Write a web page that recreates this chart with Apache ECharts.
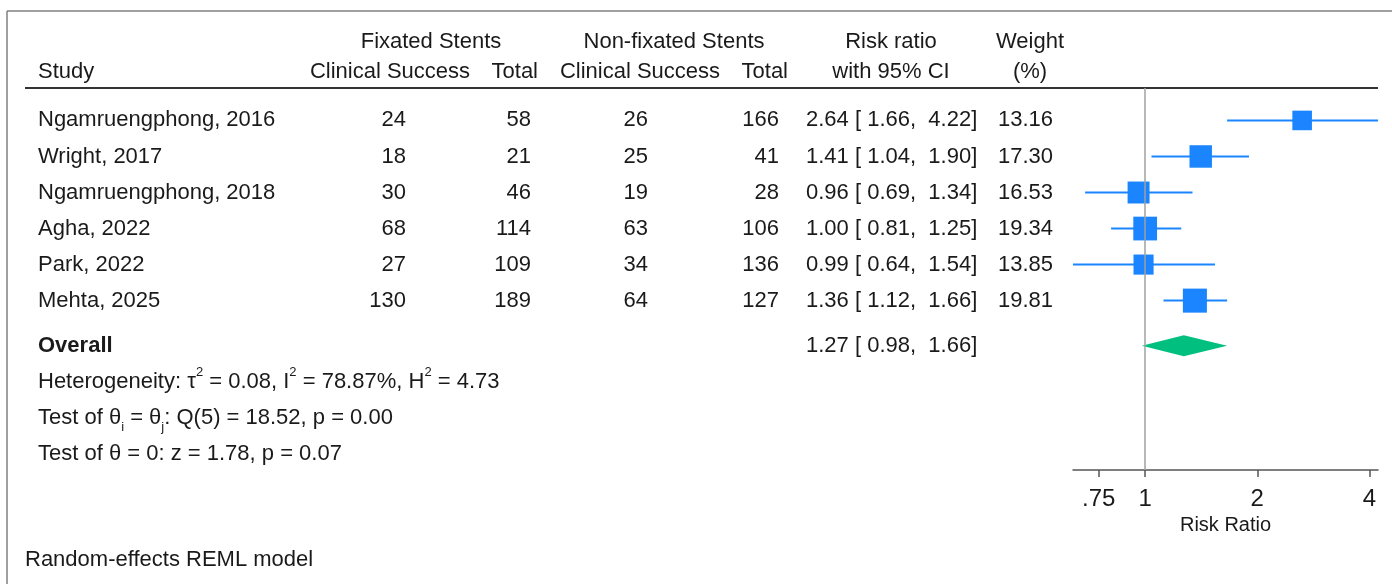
<!DOCTYPE html>
<html>
<head>
<meta charset="utf-8">
<title>Forest plot - fixated vs non-fixated stents</title>
<script src="https://cdn.jsdelivr.net/npm/echarts@6/dist/echarts.min.js"></script>
<style>
  html, body { margin: 0; padding: 0; background: #fff; }
  #chart { width: 1392px; height: 584px; }
</style>
</head>
<body>
<div id="chart"></div>
<script>
// study data
var studies = ['Ngamruengphong, 2016', 'Wright, 2017', 'Ngamruengphong, 2018', 'Agha, 2022', 'Park, 2022', 'Mehta, 2025'];
var fixSuccess = [24, 18, 30, 68, 27, 130];
var fixTotal = [58, 21, 46, 114, 109, 189];
var nonSuccess = [26, 25, 19, 63, 34, 64];
var nonTotal = [166, 41, 28, 106, 136, 127];
var riskRatio = [2.64, 1.41, 0.96, 1.00, 0.99, 1.36];
var ciLow = [1.66, 1.04, 0.69, 0.81, 0.64, 1.12];
var ciHigh = [4.22, 1.90, 1.34, 1.25, 1.54, 1.66];
var weights = [13.16, 17.30, 16.53, 19.34, 13.85, 19.81];
var overall = [1.27, 0.98, 1.66];   // estimate, low, high
var tickValues = [0.75, 1, 2, 4];
var tickLabels = ['.75', '1', '2', '4'];
var hetero = { tau2: '0.08', i2: '78.87%', h2: '4.73', q: '18.52', df: 5, qp: '0.00', z: '1.78', zp: '0.07' };

// layout rows on the (hidden) y axis
var studyRows = [1, 2, 3, 4, 5, 6];
var overallRow = 7.25;

var FONT = '"Liberation Sans", Arial, sans-serif';
var TXT = '#1a1a1a';
var BLUE = '#1a85ff';
var GREEN = '#00bf7f';

var chart = echarts.init(document.getElementById('chart'));

var ciData = [], squareData = [];
studies.forEach(function (s, i) {
    ciData.push([ciLow[i], ciHigh[i], studyRows[i]]);
    squareData.push([riskRatio[i], studyRows[i], weights[i]]);
});

var option = {
    animation: false,
    backgroundColor: '#fff',
    grid: { left: 1073, right: 14, top: 88, bottom: 114 },
    xAxis: {
        type: 'log',
        logBase: 2,
        min: 0.64,
        max: 4.22,
        position: 'bottom',
        axisLine: { show: true, lineStyle: { color: '#555', width: 1.5 } },
        axisTick: { show: true, length: 7, customValues: tickValues, lineStyle: { color: '#555', width: 1.5 } },
        axisLabel: {
            customValues: tickValues,
            margin: 17,
            fontSize: 24,
            fontFamily: FONT,
            color: TXT,
            formatter: function (v) {
                var k = tickValues.indexOf(+v);
                return k >= 0 ? tickLabels[k] : '';
            }
        },
        splitLine: { show: false },
        minorTick: { show: false },
        name: 'Risk Ratio',
        nameLocation: 'middle',
        nameGap: 44,
        nameTextStyle: { fontSize: 20, fontFamily: FONT, color: TXT }
    },
    yAxis: {
        type: 'value',
        inverse: true,
        min: 0.1,
        max: 10.7,
        show: false
    },
    series: [
        {
            type: 'custom',
            name: 'CI',
            data: ciData,
            renderItem: function (params, api) {
                var a = api.coord([api.value(0), api.value(2)]);
                var b = api.coord([api.value(1), api.value(2)]);
                return {
                    type: 'line',
                    shape: { x1: a[0], y1: a[1], x2: b[0], y2: b[1] },
                    style: { stroke: BLUE, lineWidth: 2 }
                };
            },
            markLine: {
                silent: true,
                symbol: 'none',
                label: { show: false },
                lineStyle: { color: '#a0a0a0', width: 1.5, type: 'solid' },
                data: [{ xAxis: 1 }]
            },
            z: 2
        },
        {
            type: 'scatter',
            name: 'Estimate',
            data: squareData,
            symbol: 'rect',
            symbolSize: function (val) { return 5.4 * Math.sqrt(val[2]); },
            itemStyle: { color: BLUE, opacity: 1 },
            z: 3
        },
        {
            type: 'custom',
            name: 'Overall',
            data: [[overall[1], overall[0], overall[2], overallRow]],
            renderItem: function (params, api) {
                var y = api.value(3);
                var l = api.coord([api.value(0), y]);
                var c = api.coord([api.value(1), y]);
                var r = api.coord([api.value(2), y]);
                return {
                    type: 'polygon',
                    shape: { points: [[l[0], l[1]], [c[0], c[1] - 10.5], [r[0], r[1]], [c[0], c[1] + 10.5]] },
                    style: { fill: GREEN }
                };
            },
            z: 3
        }
    ]
};
chart.setOption(option);

// table text aligned to the y axis rows
function rowY(r) { return chart.convertToPixel({ yAxisIndex: 0 }, r); }
function txt(x, y, s, align, bold) {
    return {
        type: 'text', x: x, y: y, silent: true,
        style: {
            text: s, align: align, textAlign: align, verticalAlign: 'middle', textVerticalAlign: 'middle',
            font: (bold ? 'bold ' : '') + '22px ' + FONT, fill: TXT
        }
    };
}
function fmt(v) { return v.toFixed(2); }

var g = [];
// frame and header rule
g.push({ type: 'line', silent: true, shape: { x1: 7, y1: 11, x2: 1392, y2: 11 }, style: { stroke: '#808080', lineWidth: 1.5 } });
g.push({ type: 'line', silent: true, shape: { x1: 7, y1: 11, x2: 7, y2: 584 }, style: { stroke: '#808080', lineWidth: 1.5 } });
g.push({ type: 'line', silent: true, shape: { x1: 25, y1: 88, x2: 1378, y2: 88 }, style: { stroke: '#333', lineWidth: 2 } });

// headers
g.push(txt(431, 42, 'Fixated Stents', 'center'));
g.push(txt(674, 42, 'Non-fixated Stents', 'center'));
g.push(txt(891, 42, 'Risk ratio', 'center'));
g.push(txt(1030, 42, 'Weight', 'center'));
g.push(txt(38, 72, 'Study', 'left'));
g.push(txt(390, 72, 'Clinical Success', 'center'));
g.push(txt(538, 72, 'Total', 'right'));
g.push(txt(640, 72, 'Clinical Success', 'center'));
g.push(txt(788, 72, 'Total', 'right'));
g.push(txt(891, 72, 'with 95% CI', 'center'));
g.push(txt(1030, 72, '(%)', 'center'));

studies.forEach(function (s, i) {
    var y = rowY(studyRows[i]);
    g.push(txt(38, y, s, 'left'));
    g.push(txt(406, y, String(fixSuccess[i]), 'right'));
    g.push(txt(531, y, String(fixTotal[i]), 'right'));
    g.push(txt(648, y, String(nonSuccess[i]), 'right'));
    g.push(txt(779, y, String(nonTotal[i]), 'right'));
    g.push(txt(806, y, fmt(riskRatio[i]) + ' [ ' + fmt(ciLow[i]) + ',  ' + fmt(ciHigh[i]) + ']', 'left'));
    g.push(txt(1053, y, fmt(weights[i]), 'right'));
});

var yo = rowY(overallRow);
g.push(txt(38, yo, 'Overall', 'left', true));
g.push(txt(806, yo, fmt(overall[0]) + ' [ ' + fmt(overall[1]) + ',  ' + fmt(overall[2]) + ']', 'left'));

var rich = {
    sup: { font: '13px ' + FONT, fill: TXT, lineHeight: 9, verticalAlign: 'top' },
    sub: { font: '13px ' + FONT, fill: TXT, lineHeight: 15, verticalAlign: 'bottom' }
};
function richTxt(x, y, s) {
    return {
        type: 'text', x: x, y: y, silent: true,
        style: {
            text: s, align: 'left', textAlign: 'left', verticalAlign: 'middle', textVerticalAlign: 'middle',
            font: '22px ' + FONT, fill: TXT, lineHeight: 32, rich: rich
        }
    };
}
g.push(richTxt(38, rowY(overallRow + 1),
    'Heterogeneity: τ{sup|2} = ' + hetero.tau2 + ', I{sup|2} = ' + hetero.i2 + ', H{sup|2} = ' + hetero.h2));
g.push(richTxt(38, rowY(overallRow + 2),
    'Test of θ{sub|i} = θ{sub|j}: Q(' + hetero.df + ') = ' + hetero.q + ', p = ' + hetero.qp));
g.push(richTxt(38, rowY(overallRow + 3),
    'Test of θ = 0: z = ' + hetero.z + ', p = ' + hetero.zp));

g.push(txt(25, 560, 'Random-effects REML model', 'left'));

chart.setOption({ graphic: g });
</script>
</body>
</html>
